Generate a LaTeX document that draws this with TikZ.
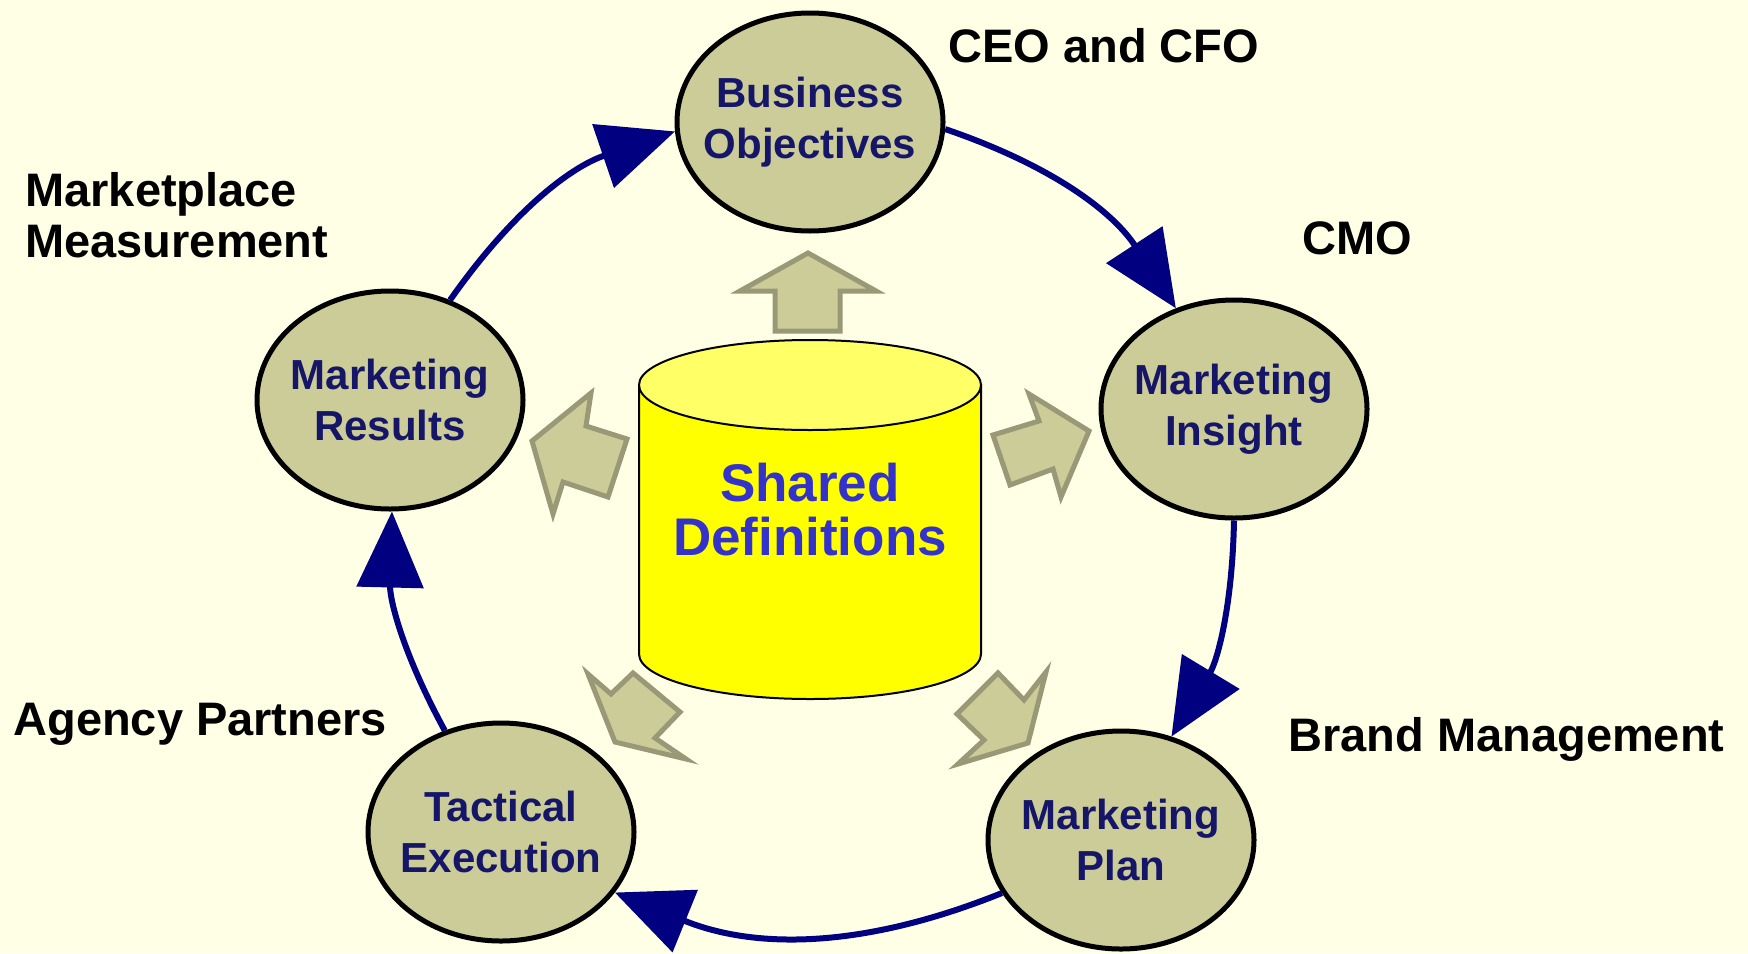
\documentclass[tikz,border=0pt]{standalone}
\usepackage{fontspec}
\setmainfont{Liberation Sans}
\usetikzlibrary{arrows.meta,shapes.geometric}

\definecolor{bgcream}{RGB}{255,255,229}
\definecolor{khaki}{RGB}{204,204,153}
\definecolor{khakiline}{RGB}{153,153,119}
\definecolor{loopblue}{RGB}{0,0,128}
\definecolor{stagetext}{RGB}{22,22,105}
\definecolor{dbtext}{RGB}{51,51,204}
\definecolor{dbtop}{RGB}{255,255,102}
\definecolor{dbside}{RGB}{255,255,0}

\begin{document}
\begin{tikzpicture}[x=0.5pt, y=-0.5pt,
  >={Triangle[length=38pt,width=33pt]},
  stage/.style={ellipse, draw=black, line width=2.5pt, fill=khaki,
    minimum width=133pt, minimum height=109pt, inner xsep=-8pt, inner ysep=0pt,
    align=center, text=stagetext, font=\fontsize{21}{25.5}\selectfont\bfseries},
  role/.style={anchor=base west, align=left, inner sep=0pt,
    font=\fontsize{23.5}{25.5}\selectfont\bfseries},
  loop/.style={->, draw=loopblue, line width=3pt},
  push/.style={draw=khakiline, fill=khaki, line width=2.5pt, line join=miter}
]

  % Parameters (page is 1748 x 953 units)
  \def\dbx{810}     % cylinder axis
  \def\dbtop{385}   % centre of top face
  \def\dbbot{654}   % centre of bottom face

  % Page
  \fill[bgcream] (0,0) rectangle (1748,953);
  \useasboundingbox (0,0) rectangle (1748,953);

  % Store of shared definitions
  \draw[line width=1pt, fill=dbside]
    (\dbx-171,\dbtop) -- (\dbx-171,\dbbot)
    arc[start angle=180, end angle=360, x radius=85.5pt, y radius=22.5pt]
    -- (\dbx+171,\dbtop) -- cycle;
  \draw[line width=1pt, fill=dbtop] (\dbx,\dbtop) ellipse [x radius=85.5pt, y radius=22.5pt];
  \node[align=center, text=dbtext, inner sep=0pt,
        font=\fontsize{26.5}{27}\selectfont\bfseries] (db) at (\dbx,510) {Shared\\Definitions};

  % Block arrows out of the store
  \draw[push] (808,253) -- (876,291) -- (840,291) -- (840,331)
    -- (775,331) -- (775,291) -- (740,291) -- cycle;
  \draw[push] (993,435) -- (1039,421) -- (1029,394) -- (1089,431)
    -- (1061,497) -- (1053,469) -- (1010,485) -- cycle;
  \draw[push] (627,439) -- (586,426) -- (591,393) -- (532,441)
    -- (553,514) -- (563,482) -- (608,497) -- cycle;
  \draw[push] (633,673) -- (611,694) -- (588,674) -- (615,742)
    -- (686,759) -- (655,738) -- (680,712) -- cycle;
  \draw[push] (998,673) -- (1024,700) -- (1046,672) -- (1028,743)
    -- (958,764) -- (984,740) -- (957,714) -- cycle;

  % Stages of the cycle
  \node[stage] (bo) at (810,122)  {Business\\Objectives};
  \node[stage] (mi) at (1234,409) {Marketing\\Insight};
  \node[stage] (mp) at (1121,840) {Marketing\\Plan};
  \node[stage] (te) at (501,832)  {Tactical\\Execution};
  \node[stage] (mr) at (390,400)  {Marketing\\Results};

  % Who owns each stage
  \node[role] (ceo)   at (948,62)   {CEO and CFO};
  \node[role] (cmo)   at (1302,254) {CMO};
  \node[role] (brand) at (1288,751) {Brand Management};
  \node[role] (agency) at (13,735)  {Agency Partners};
  \node[role] (mkt)   at (25,257)   {Marketplace\\Measurement};

  % The loop
  \draw[loop] (mr.59)  to[bend left=18] (bo.184);
  \draw[loop] (bo.-3)  to[bend left=19] (mi.120);
  \draw[loop] (mi.270) to[bend left=15] (mp.64);
  \draw[loop] (mp.204) to[bend left=22] (te.-28);
  \draw[loop] (te.119) to[bend left=15] (mr.271);

\end{tikzpicture}
\end{document}
